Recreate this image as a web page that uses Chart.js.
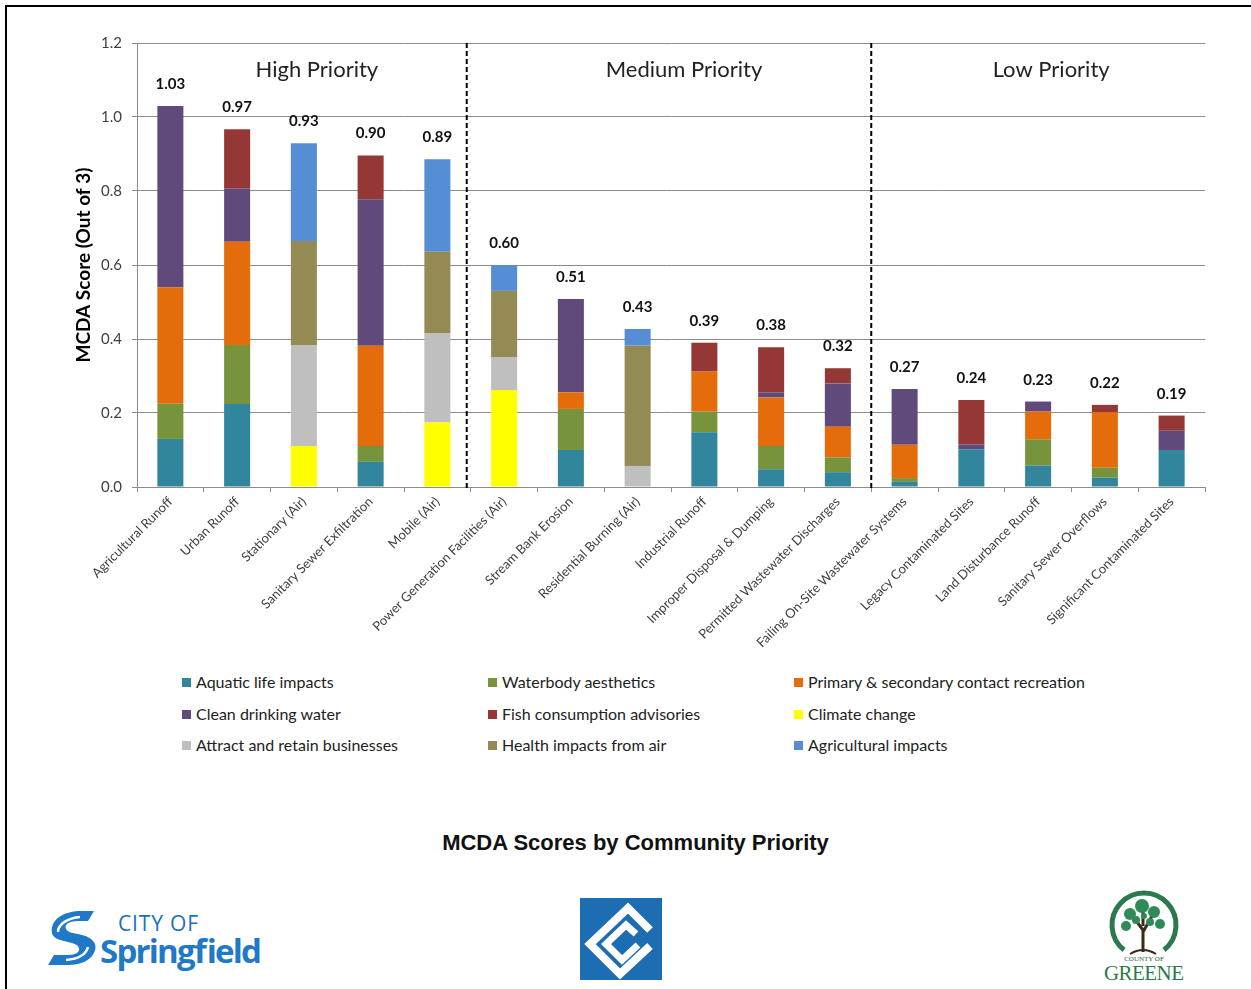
<!DOCTYPE html>
<html>
<head>
<meta charset="utf-8">
<script src="https://cdn.jsdelivr.net/npm/chart.js@4.4.0/dist/chart.umd.min.js"></script>
<style>
  html, body { margin: 0; padding: 0; background: #fff; }
  body { width: 1251px; height: 989px; position: relative; overflow: hidden; font-family: Lato, sans-serif; }
  #frame { position: absolute; left: 5px; top: 5px; width: 1260px; height: 1000px; border-top: 2px solid #000; border-left: 2px solid #000; }
  #wrap { position: absolute; left: 0; top: 0; width: 1251px; height: 660px; }
  #legend { position: absolute; left: 182px; top: 671px; width: 940px; }
  .lg { position: absolute; font-size: 16px; color: #222; white-space: nowrap; line-height: 21px; }
  .lg i { display: inline-block; width: 9px; height: 9px; margin-right: 5px; vertical-align: 1px; }
  #title { position: absolute; left: 20px; width: 1231px; top: 830px; text-align: center; font: bold 22px "Liberation Sans", Arial, sans-serif; color: #111; }
  .logo { position: absolute; }
</style>
</head>
<body>
<div id="frame"></div>
<div id="wrap"><canvas id="mcdaChart" width="1251" height="660"></canvas></div>
<div id="legend"></div>
<div id="title">MCDA Scores by Community Priority</div>

<!-- City of Springfield -->
<svg class="logo" style="left:44px;top:905px" width="230" height="70" viewBox="0 0 230 70">
  <path d="M8 28 C6 14 20 6 38 6 L50 6 L44 16 L34 16 C24 16 20 20 22 24 C24 28 30 28 38 30 C50 33 54 40 50 48 C46 56 36 60 24 60 L4 60 L10 50 L24 50 C32 50 36 47 35 43 C34 39 28 38 20 36 C12 34 9 32 8 28 Z" fill="#1f78c8"/>
  <path d="M14 27 C14 19 24 13 36 12 M44 42 C42 50 34 54 22 55" stroke="#ffffff" stroke-width="2.5" fill="none"/>
  <text x="74" y="26" font-family="'Open Sans', sans-serif" font-size="21" fill="#1a6fc0" textLength="80">CITY OF</text>
  <text x="56" y="58" font-family="'Open Sans', sans-serif" font-weight="bold" font-size="33" fill="#1f78c8" textLength="162">Springfield</text>
</svg>

<!-- centre emblem -->
<svg class="logo" style="left:580px;top:898px" width="82" height="82" viewBox="0 0 82 82">
  <rect x="0" y="0" width="82" height="82" fill="#1d6db3"/>
  <polyline points="70,32 48,10 10,46 40,76 70,48" fill="none" stroke="#fff" stroke-width="8" stroke-linejoin="miter"/>
  <polyline points="56,36 46,27 26,46 42,62 58,47" fill="none" stroke="#fff" stroke-width="7" stroke-linejoin="miter"/>
</svg>

<!-- County of Greene -->
<svg class="logo" style="left:1098px;top:884px" width="92" height="100" viewBox="0 0 92 100">
  <path d="M26 66 A32 32 0 1 1 66 66" fill="none" stroke="#2c7a4b" stroke-width="5"/>
  <path d="M45 68 L45 46 L36 34 M45 48 L54 32 M45 42 L45 26" stroke="#3a2a1a" stroke-width="3" fill="none"/>
  <path d="M32 70 Q45 62 58 70" stroke="#3a2a1a" stroke-width="2" fill="none"/>
  <g fill="#2f8a57">
    <circle cx="32" cy="30" r="6"/><circle cx="44" cy="22" r="7"/><circle cx="56" cy="28" r="6"/>
    <circle cx="28" cy="42" r="5"/><circle cx="62" cy="40" r="5"/><circle cx="38" cy="36" r="4"/>
    <circle cx="52" cy="38" r="4"/><circle cx="46" cy="32" r="3"/>
  </g>
  <text x="46" y="77" text-anchor="middle" font-family="'Liberation Serif', serif" font-size="7" fill="#2c5f3f">COUNTY OF</text>
  <text x="46" y="96" text-anchor="middle" font-family="'Liberation Serif', serif" font-size="21" fill="#2c7a4b" textLength="80">GREENE</text>
</svg>

<script>
// categories (sources)
const sources = [
  'Agricultural Runoff', 'Urban Runoff', 'Stationary (Air)', 'Sanitary Sewer Exfiltration', 'Mobile (Air)',
  'Power Generation Facilities (Air)', 'Stream Bank Erosion', 'Residential Burning (Air)', 'Industrial Runoff',
  'Improper Disposal & Dumping', 'Permitted Wastewater Discharges', 'Failing On-Site Wastewater Systems',
  'Legacy Contaminated Sites', 'Land Disturbance Runoff', 'Sanitary Sewer Overflows', 'Significant Contaminated Sites'
];

// printed totals above bars
const totalLabels = ['1.03', '0.97', '0.93', '0.90', '0.89', '0.60', '0.51', '0.43', '0.39', '0.38', '0.32', '0.27', '0.24', '0.23', '0.22', '0.19'];

// score components
const aquaticLife   = [0.130, 0.224, 0, 0.068, 0, 0, 0.100, 0, 0.148, 0.048, 0.040, 0.014, 0.102, 0.058, 0.025, 0.100];
const waterbody     = [0.095, 0.160, 0, 0.043, 0, 0, 0.111, 0, 0.056, 0.063, 0.040, 0.010, 0, 0.071, 0.027, 0];
const contactRec    = [0.315, 0.279, 0, 0.271, 0, 0, 0.045, 0, 0.108, 0.131, 0.083, 0.090, 0, 0.075, 0.150, 0];
const drinkingWater = [0.490, 0.144, 0, 0.396, 0, 0, 0.252, 0, 0, 0.014, 0.117, 0.151, 0.013, 0.027, 0, 0.052];
const fishAdvisory  = [0, 0.160, 0, 0.118, 0, 0, 0, 0, 0.078, 0.122, 0.041, 0, 0.120, 0, 0.020, 0.041];
const climateChange = [0, 0, 0.111, 0, 0.174, 0.262, 0, 0, 0, 0, 0, 0, 0, 0, 0, 0];
const businesses    = [0, 0, 0.273, 0, 0.241, 0.088, 0, 0.057, 0, 0, 0, 0, 0, 0, 0, 0];
const healthAir     = [0, 0, 0.281, 0, 0.221, 0.180, 0, 0.325, 0, 0, 0, 0, 0, 0, 0, 0];
const agricultural  = [0, 0, 0.264, 0, 0.250, 0.070, 0, 0.045, 0, 0, 0, 0, 0, 0, 0, 0];

const yTicks = [0, 0.2, 0.4, 0.6, 0.8, 1.0, 1.2];

const sections = [
  { label: 'High Priority', first: 0, last: 4 },
  { label: 'Medium Priority', first: 5, last: 10 },
  { label: 'Low Priority', first: 11, last: 15 }
];

const series = [
  { label: 'Aquatic life impacts', data: aquaticLife, color: '#31859c' },
  { label: 'Waterbody aesthetics', data: waterbody, color: '#77933c' },
  { label: 'Primary & secondary contact recreation', data: contactRec, color: '#e46c0a' },
  { label: 'Clean drinking water', data: drinkingWater, color: '#604a7b' },
  { label: 'Fish consumption advisories', data: fishAdvisory, color: '#953735' },
  { label: 'Climate change', data: climateChange, color: '#ffff00' },
  { label: 'Attract and retain businesses', data: businesses, color: '#bfbfbf' },
  { label: 'Health impacts from air', data: healthAir, color: '#948a54' },
  { label: 'Agricultural impacts', data: agricultural, color: '#558ed5' }
];

// legend, 3 columns
const legendEl = document.getElementById('legend');
series.forEach((s, i) => {
  const d = document.createElement('div');
  d.className = 'lg';
  d.style.left = (i % 3) * 306 + 'px';
  d.style.top = Math.floor(i / 3) * 31.5 + 'px';
  d.innerHTML = '<i style="background:' + s.color + '"></i>' + s.label.replace('&', '&amp;');
  legendEl.appendChild(d);
});

const overlay = {
  id: 'overlay',
  afterDatasetsDraw(chart) {
    const c = chart.ctx, x = chart.scales.x, y = chart.scales.y, area = chart.chartArea;
    c.save();
    // totals
    c.font = 'bold 15px Lato';
    c.fillStyle = '#111';
    c.textAlign = 'center';
    c.textBaseline = 'alphabetic';
    sources.forEach((_, i) => {
      let tot = 0;
      series.forEach(s => tot += s.data[i]);
      c.fillText(totalLabels[i], x.getPixelForValue(i), y.getPixelForValue(tot) - 17);
    });
    // section dividers
    c.strokeStyle = '#000';
    c.lineWidth = 2;
    c.setLineDash([5, 3]);
    sections.slice(1).forEach((sec, k) => {
      const px = (x.getPixelForValue(sec.first - 1) + x.getPixelForValue(sec.first)) / 2 - (k === 0 ? 4 : 0);
      c.beginPath();
      c.moveTo(px, area.top);
      c.lineTo(px, area.bottom + 4);
      c.stroke();
    });
    c.setLineDash([]);
    // section titles
    c.font = '22px Lato';
    c.fillStyle = '#222';
    c.textBaseline = 'middle';
    sections.forEach(sec => {
      const px = (x.getPixelForValue(sec.first) + x.getPixelForValue(sec.last)) / 2 + 13;
      c.fillText(sec.label, px, area.top + 27);
    });
    c.restore();
  }
};

const ctx = document.getElementById('mcdaChart').getContext('2d');
const mcdaChart = new Chart(ctx, {
  type: 'bar',
  data: {
    labels: sources,
    datasets: series.map(s => ({
      label: s.label,
      data: s.data,
      backgroundColor: s.color,
      borderWidth: 0,
      barPercentage: 0.39,
      categoryPercentage: 1.0
    }))
  },
  options: {
    responsive: false,
    animation: false,
    layout: { padding: { left: 68, top: 43, right: 46, bottom: 0 } },
    plugins: {
      legend: { display: false },
      tooltip: { enabled: false }
    },
    scales: {
      x: {
        stacked: true,
        afterFit: s => { s.height = 173; },
        grid: { display: true, drawOnChartArea: false, drawTicks: true, tickLength: 5, color: '#8c8c8c', offset: true },
        border: { color: '#8c8c8c' },
        ticks: {
          autoSkip: false, minRotation: 45, maxRotation: 45, padding: 2,
          color: '#404040', font: { family: 'Lato', size: 13 }
        }
      },
      y: {
        stacked: true,
        min: 0, max: 1.2,
        afterFit: s => { s.width = 69; },
        afterBuildTicks: s => { s.ticks = yTicks.map(v => ({ value: v })); },
        grid: { color: '#8c8c8c', tickLength: 5 },
        border: { color: '#8c8c8c' },
        ticks: {
          padding: 10, color: '#404040', font: { family: 'Lato', size: 15 },
          callback: v => v.toFixed(1)
        },
        title: {
          display: true, text: 'MCDA Score (Out of 3)', color: '#000',
          font: { family: 'Lato', size: 19, weight: 'bold' }
        }
      }
    }
  },
  plugins: [overlay]
});
</script>
</body>
</html>
